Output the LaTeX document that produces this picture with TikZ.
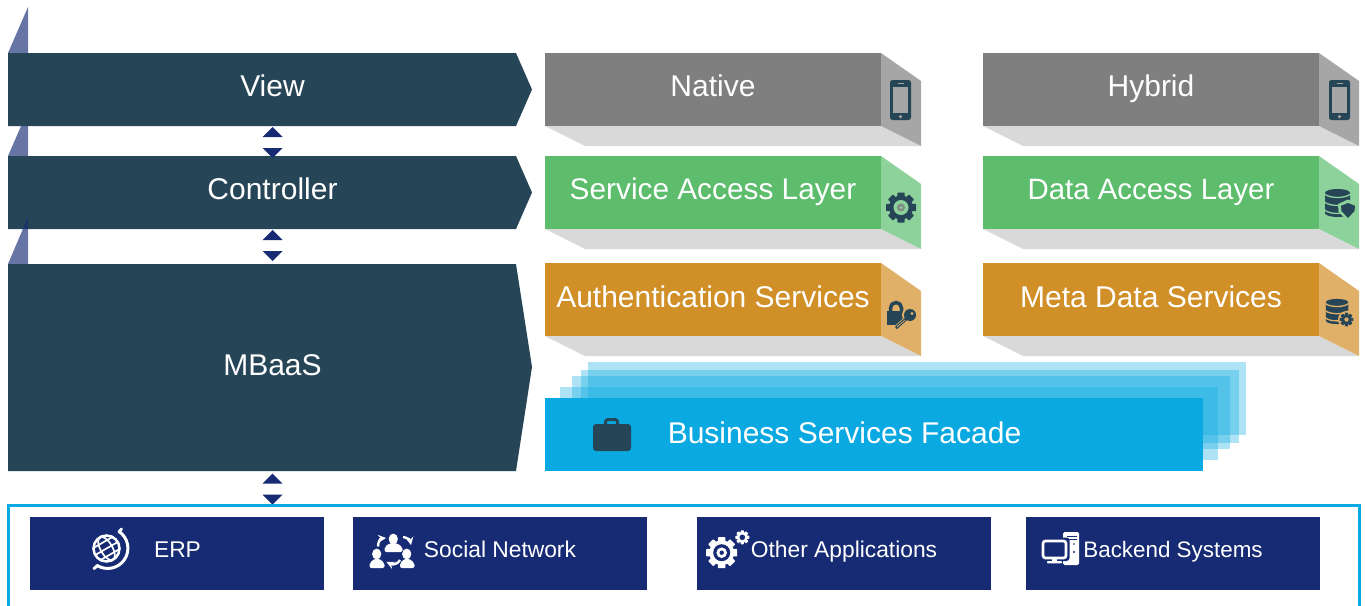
\documentclass[tikz,border=0pt]{standalone}
\usepackage{fontspec}
\setmainfont{Liberation Sans}
\definecolor{dk}{HTML}{264557}
\definecolor{nv}{HTML}{162B73}
\definecolor{bl}{HTML}{0AA9E1}
\definecolor{gA}{HTML}{7F7F7F}\definecolor{gB}{HTML}{A6A6A6}
\definecolor{grA}{HTML}{5DBD6D}\definecolor{grB}{HTML}{8DD19B}
\definecolor{oA}{HTML}{D18F28}\definecolor{oB}{HTML}{E0B068}
\definecolor{fl}{HTML}{D9D9D9}
\tikzset{
 lbl/.style={text=white,font=\fontsize{30}{32}\selectfont,inner sep=0pt,anchor=base},
 slbl/.style={text=white,font=\fontsize{22.8}{26}\selectfont,inner sep=0pt,anchor=base},
 tri/.style={fill=nv,fill opacity=.65},
 arr/.style={fill=nv},
 srcbox/.style={fill=nv,minimum width=294pt,minimum height=73pt,inner sep=0pt,anchor=north west},
 layer/.style={fill=bl,fill opacity=.33},
}
\newcommand{\phoneic}[2]{\begin{scope}[shift={(#1,#2)}]
 \fill[dk,rounded corners=2.5pt] (-10.5,-20) rectangle (10.5,20);
 \fill[gB] (-7.6,-13.2) rectangle (7.6,13.2);
 \fill[gB] (-3,-16.8) rectangle (3,-15.8);
 \fill[gB] (0,16.6) circle (1.7);
\end{scope}}
\newcommand{\gearic}[4]{%
 \begin{scope}[shift={(#1,#2)}]
 \fill[#4] (0,0) circle (#3*.8);
 \foreach \a in {0,45,...,315}{\fill[#4,rotate=\a,rounded corners=.6pt] (-#3*.24,-#3) rectangle (#3*.24,0);}
 \end{scope}}
\newcommand{\dbic}[4]{% x y scale gapcolour
 \begin{scope}[shift={(#1,#2)},scale=#3]
 \fill[dk] (-12.5,-10) .. controls (-12.5,-15.3) and (12.5,-15.3) .. (12.5,-10) -- (12.5,10) .. controls (12.5,15.3) and (-12.5,15.3) .. (-12.5,10) -- cycle;
 \foreach \yy in {-9,-1,7}{
 \draw[#4,line width=1.3pt] (-13,\yy) .. controls (-8,\yy+4.6) and (8,\yy+4.6) .. (13,\yy);}
 \end{scope}}
\begin{document}
\begin{tikzpicture}[x=1pt,y=-1pt]
\useasboundingbox (0,0) rectangle (1365,605);
\fill[tri] (8,53) -- (28,7) -- (28,53) -- cycle;
\fill[tri] (8,156) -- (28,110) -- (28,156) -- cycle;
\fill[dk] (8,53) -- (516,53) -- (532,89.5) -- (516,126) -- (8,126) -- cycle;
\fill[dk] (8,156) -- (516,156) -- (532,192.5) -- (516,229) -- (8,229) -- cycle;
\fill[dk] (8,264) -- (516,264) -- (532,367) -- (516,471) -- (8,471) -- cycle;
\fill[tri] (8,264) -- (28,217) -- (28,264) -- cycle;
\node[lbl] (view) at (272.5,96.5) {View};
\node[lbl] (ctrl) at (272.5,199) {Controller};
\node[lbl] (mb) at (272.5,375) {MBaaS};
\foreach \yy in {127,230,473.5}{
 \fill[arr] (262.5,\yy+10) -- (272.5,\yy) -- (282.5,\yy+10) -- cycle;
 \fill[arr] (262.5,\yy+21) -- (282.5,\yy+21) -- (272.5,\yy+31) -- cycle;
}
\foreach \x/\y/\ca/\cb in {545/53/gA/gB,983/53/gA/gB,545/156/grA/grB,983/156/grA/grB,545/263/oA/oB,983/263/oA/oB}{
 \fill[fl] (\x,\y+73) -- (\x+336,\y+73) -- (\x+376,\y+93) -- (\x+40,\y+93) -- cycle;
 \fill[\cb] (\x+336,\y) -- (\x+376,\y+28) -- (\x+376,\y+93) -- (\x+336,\y+73) -- cycle;
 \fill[\ca] (\x,\y) rectangle (\x+336,\y+73);
}
\node[lbl] (nat) at (713,96.5) {Native};
\node[lbl] (hyb) at (1151,96.5) {Hybrid};
\node[lbl,font=\fontsize{29.8}{32}\selectfont] (sal) at (713,199) {Service Access Layer};
\node[lbl,font=\fontsize{29.4}{32}\selectfont] (dal) at (1151,199) {Data Access Layer};
\node[lbl] (aus) at (713,307) {Authentication Services};
\node[lbl] (mds) at (1151,307) {Meta Data Services};
\phoneic{900.5}{100}
\phoneic{1339.5}{100}
% gear
\gearic{901}{207.5}{15}{dk}
\fill[grB] (901,207.5) circle (7.5);
\fill[gA!85!grB] (901,207.5) circle (4);
\fill[grB] (901,207.5) circle (1.5);
% lock and key
\fill[dk] (887,311) rectangle (905,325);
\draw[dk,line width=3.5pt] (890.5,312) -- (890.5,308) arc[start angle=180,end angle=360,radius=5.5] -- (901.5,312);
\draw[oB,line width=6pt] (908,318) -- (896,329);
\fill[oB] (910,315) circle (8);
\fill[dk] (910,315) circle (6);
\draw[dk,line width=3pt] (907,318) -- (896,328);
\draw[oB,line width=.7pt] (905,320) -- (897,327);
\fill[oB] (912,313.5) circle (1.6);
% db + shield
\dbic{1337.5}{203}{1}{grB}
\fill[grB] (1348,199.5) -- (1358,204) -- (1357.5,212) -- (1348,221) -- (1338.5,212) -- (1338,204) -- cycle;
\fill[dk] (1348,203) -- (1355,205.8) -- (1354.5,211) -- (1348,218) -- (1341.5,211) -- (1341,205.8) -- cycle;
% db + gear
\dbic{1337}{311.5}{.9}{oB}
\fill[oB] (1346.5,319.5) circle (8.5);
\gearic{1346.5}{319.5}{6.8}{dk}
\fill[oB] (1346.5,319.5) circle (2.2);
% layers
\fill[layer] (588,362) rectangle (1246,435);
\fill[layer] (581,370) rectangle (1239,443);
\fill[layer] (572,376) rectangle (1230,449);
\fill[layer] (560,387) rectangle (1218,460);
\fill[bl] (545,398) rectangle (1203,471);
\node[lbl] (bsf) at (844.5,443) {Business Services Facade};
% briefcase
\draw[dk,line width=3pt,rounded corners=2.5pt] (605.5,426) -- (605.5,419.5) -- (617.5,419.5) -- (617.5,426);
\fill[dk,rounded corners=3pt] (593,424) rectangle (631,451);
% frame
\draw[bl,line width=2.6pt] (8.7,606) -- (8.7,505.3) -- (1359.5,505.3) -- (1359.5,606);
\node[srcbox] (erp) at (30,517) {};
\node[srcbox] (soc) at (353,517) {};
\node[srcbox] (oth) at (697,517) {};
\node[srcbox] (bak) at (1026,517) {};
\node[slbl] (erpt) at (177.5,557) {ERP};
\node[slbl] (soct) at (500,557) {Social Network};
\node[slbl] (otht) at (844,557) {Other Applications};
\node[slbl,font=\fontsize{22.4}{26}\selectfont] (bakt) at (1173,557) {Backend Systems};
% globe
\begin{scope}[white,line width=1.7pt,line cap=round]
 \draw[line width=2.5pt] (106.5,548.5) circle (13);
 \draw[rotate around={30:(106.5,548.5)}] (106.5,548.5) ellipse (6 and 13);
 \draw[rotate around={30:(106.5,548.5)}] (93.5,548.5) -- (119.5,548.5);
 \draw[rotate around={30:(106.5,548.5)}] (95,541.5) -- (118,541.5) (95,555.5) -- (118,555.5);
 \draw[line width=3pt] (119,531.5) arc[start angle=-56,end angle=122,radius=20.2];
 \draw[line width=3pt] (119,532) -- (121.5,529) (97,566) -- (94,568.5);
\end{scope}
% social
\begin{scope}[white]
 \fill (393.3,539) ellipse (4.6 and 5.4);
 \fill[rounded corners=2pt] (384.5,552) -- (384.5,547) -- (390,543) -- (396.5,543) -- (402.5,547) -- (402.5,552) -- cycle;
 \fill (376.7,554) ellipse (4.6 and 5.4);
 \fill[rounded corners=2pt] (369.5,568) -- (369.5,563) -- (375,558.5) -- (379,558.5) -- (384.5,563) -- (384.5,568) -- cycle;
 \fill (406.7,554) ellipse (4.6 and 5.4);
 \fill[rounded corners=2pt] (400,568) -- (400,563) -- (405,558.5) -- (409,558.5) -- (414.5,563) -- (414.5,568) -- cycle;
 \draw[line width=2.4pt,-stealth] (378,546.5) .. controls (378,541) and (381,538.5) .. (386,538);
 \draw[line width=2.4pt,-stealth] (403,537) .. controls (407,537.5) and (410,540) .. (411,545);
 \draw[line width=2.4pt,-stealth] (400,560) .. controls (398,564) and (393,565) .. (386.5,562);
\end{scope}
% other gears
\gearic{721.7}{552.7}{15.5}{white}
\fill[nv] (721.7,552.7) circle (8.5);
\fill[white] (721.7,552.7) circle (5.3);
\fill[nv] (721.7,552.7) circle (2.2);
\gearic{742.3}{537.3}{7}{white}
\fill[nv] (742.3,537.3) circle (2.8);
% backend
\fill[white,rounded corners=1.5pt] (1063,532) rectangle (1079,565);
\fill[nv] (1067,535.5) rectangle (1076.5,536.7);
\fill[nv] (1067,539) rectangle (1076.5,540.2);
\fill[nv] (1074,552) circle (1.1);
\fill[nv] (1074,544) circle (.9);
\fill[nv,rounded corners=3pt] (1039.5,537.5) rectangle (1069.5,561);
\draw[white,line width=2.7pt,rounded corners=2.5pt] (1043,541) rectangle (1066,558);
\fill[white] (1052,558) rectangle (1057,561.5);
\fill[white,rounded corners=.8pt] (1047,561) rectangle (1062,563.4);
\end{tikzpicture}
\end{document}
